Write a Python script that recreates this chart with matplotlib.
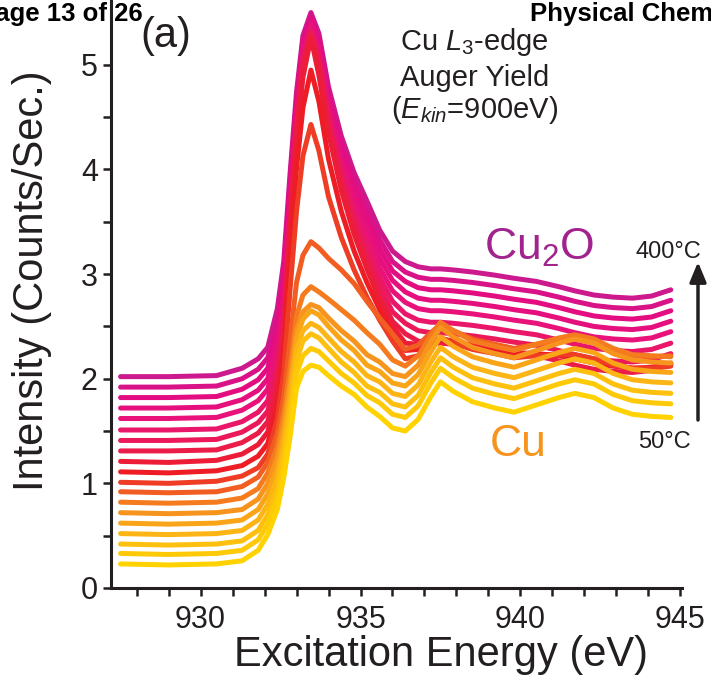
import matplotlib
matplotlib.use("Agg")
import matplotlib.pyplot as plt
from matplotlib.colors import LinearSegmentedColormap

plt.rcParams['font.family'] = ['Liberation Sans', 'DejaVu Sans']
plt.rcParams['mathtext.fontset'] = 'custom'
plt.rcParams['mathtext.rm'] = 'Liberation Sans'
plt.rcParams['mathtext.it'] = 'Liberation Sans:italic'

# excitation energy grid (eV)
energy = [927.5, 929.0, 930.5, 931.3, 931.8, 932.1, 932.4, 932.6, 932.8, 933.0,
          933.2, 933.45, 933.7, 934.0, 934.4, 934.8, 935.2, 935.6, 936.0, 936.4,
          936.8, 937.2, 937.5, 937.9, 938.5, 939.2, 939.8, 940.5, 941.2, 941.7,
          942.3, 942.9, 943.5, 944.1, 944.7]

# stacked spectra, bottom (50 C) to top (400 C)
scan_01 = [0.23, 0.22, 0.23, 0.26, 0.36, 0.51, 0.75, 1.05, 1.45, 1.91, 2.07, 2.13, 2.11, 2.03, 1.93, 1.85, 1.73, 1.64,
           1.53, 1.50, 1.61, 1.83, 1.97, 1.88, 1.78, 1.72, 1.68, 1.75, 1.82, 1.86, 1.82, 1.72, 1.66, 1.64, 1.63]
scan_02 = [0.33, 0.32, 0.33, 0.36, 0.46, 0.61, 0.86, 1.16, 1.58, 2.05, 2.22, 2.29, 2.26, 2.17, 2.05, 1.96, 1.84, 1.77,
           1.66, 1.63, 1.74, 1.96, 2.10, 2.01, 1.91, 1.85, 1.81, 1.88, 1.95, 1.99, 1.95, 1.85, 1.79, 1.77, 1.76]
scan_03 = [0.42, 0.41, 0.42, 0.45, 0.55, 0.70, 0.95, 1.26, 1.69, 2.17, 2.36, 2.43, 2.39, 2.29, 2.16, 2.06, 1.93, 1.87,
           1.76, 1.73, 1.84, 2.06, 2.20, 2.11, 2.01, 1.95, 1.91, 1.98, 2.05, 2.09, 2.05, 1.95, 1.89, 1.87, 1.86]
scan_04 = [0.52, 0.51, 0.52, 0.55, 0.65, 0.80, 1.05, 1.36, 1.79, 2.27, 2.46, 2.53, 2.49, 2.39, 2.26, 2.16, 2.03, 1.97,
           1.86, 1.83, 1.94, 2.16, 2.30, 2.21, 2.11, 2.05, 2.01, 2.08, 2.15, 2.19, 2.15, 2.05, 1.99, 1.97, 1.96]
scan_05 = [0.62, 0.61, 0.62, 0.65, 0.75, 0.90, 1.15, 1.46, 1.90, 2.38, 2.57, 2.65, 2.61, 2.50, 2.37, 2.27, 2.13, 2.07,
           1.96, 1.93, 2.04, 2.26, 2.40, 2.31, 2.21, 2.15, 2.11, 2.18, 2.25, 2.29, 2.25, 2.15, 2.09, 2.07, 2.06]
scan_06 = [0.72, 0.71, 0.72, 0.75, 0.85, 1.00, 1.25, 1.56, 1.98, 2.46, 2.64, 2.71, 2.68, 2.58, 2.46, 2.36, 2.23, 2.16,
           2.05, 2.02, 2.13, 2.35, 2.49, 2.40, 2.30, 2.24, 2.20, 2.27, 2.34, 2.38, 2.34, 2.24, 2.18, 2.16, 2.15]
scan_07 = [0.82, 0.81, 0.82, 0.86, 0.95, 1.10, 1.35, 1.67, 2.11, 2.60, 2.80, 2.88, 2.83, 2.76, 2.66, 2.56, 2.44, 2.33,
           2.18, 2.12, 2.22, 2.41, 2.54, 2.46, 2.36, 2.31, 2.27, 2.33, 2.39, 2.42, 2.38, 2.29, 2.23, 2.22, 2.21]
scan_08 = [0.92, 0.91, 0.92, 0.97, 1.06, 1.20, 1.48, 1.83, 2.37, 2.92, 3.18, 3.31, 3.25, 3.15, 3.04, 2.91, 2.74, 2.58,
           2.43, 2.28, 2.32, 2.44, 2.52, 2.46, 2.38, 2.33, 2.29, 2.33, 2.36, 2.38, 2.34, 2.26, 2.22, 2.21, 2.22]
scan_09 = [1.01, 1.00, 1.02, 1.07, 1.15, 1.28, 1.62, 2.06, 2.86, 3.60, 4.13, 4.43, 4.18, 3.74, 3.35, 3.04, 2.78, 2.56,
           2.36, 2.19, 2.22, 2.32, 2.39, 2.34, 2.28, 2.24, 2.20, 2.22, 2.23, 2.23, 2.19, 2.13, 2.10, 2.10, 2.12]
scan_10 = [1.11, 1.10, 1.12, 1.17, 1.26, 1.38, 1.73, 2.19, 3.16, 4.01, 4.59, 4.95, 4.65, 4.10, 3.60, 3.22, 2.92, 2.66,
           2.44, 2.27, 2.28, 2.34, 2.39, 2.35, 2.30, 2.26, 2.23, 2.23, 2.23, 2.21, 2.17, 2.13, 2.10, 2.10, 2.14]
scan_11 = [1.21, 1.20, 1.22, 1.28, 1.37, 1.49, 1.85, 2.33, 3.36, 4.26, 4.88, 5.26, 4.90, 4.35, 3.80, 3.38, 3.05, 2.75,
           2.50, 2.34, 2.33, 2.35, 2.38, 2.36, 2.32, 2.28, 2.25, 2.24, 2.22, 2.19, 2.15, 2.12, 2.10, 2.11, 2.15]
scan_12 = [1.31, 1.31, 1.32, 1.39, 1.48, 1.59, 1.96, 2.43, 3.45, 4.35, 4.99, 5.28, 5.00, 4.41, 3.87, 3.45, 3.12, 2.79,
           2.55, 2.43, 2.36, 2.34, 2.34, 2.33, 2.31, 2.28, 2.25, 2.22, 2.17, 2.13, 2.09, 2.07, 2.06, 2.08, 2.14]
scan_13 = [1.41, 1.41, 1.42, 1.49, 1.58, 1.69, 2.06, 2.53, 3.52, 4.40, 5.03, 5.31, 5.04, 4.46, 3.93, 3.52, 3.20, 2.88,
           2.64, 2.53, 2.46, 2.44, 2.44, 2.43, 2.41, 2.38, 2.35, 2.32, 2.27, 2.23, 2.19, 2.17, 2.16, 2.18, 2.24]
scan_14 = [1.51, 1.51, 1.52, 1.59, 1.68, 1.79, 2.16, 2.62, 3.59, 4.45, 5.07, 5.34, 5.08, 4.51, 3.99, 3.59, 3.29, 2.97,
           2.74, 2.62, 2.56, 2.54, 2.54, 2.53, 2.51, 2.48, 2.45, 2.42, 2.37, 2.33, 2.29, 2.27, 2.26, 2.28, 2.34]
scan_15 = [1.62, 1.62, 1.63, 1.70, 1.79, 1.90, 2.27, 2.73, 3.67, 4.51, 5.11, 5.37, 5.12, 4.56, 4.06, 3.67, 3.37, 3.06,
           2.84, 2.73, 2.67, 2.65, 2.65, 2.64, 2.62, 2.59, 2.56, 2.53, 2.48, 2.44, 2.40, 2.38, 2.37, 2.39, 2.45]
scan_16 = [1.72, 1.72, 1.73, 1.80, 1.89, 2.00, 2.37, 2.83, 3.75, 4.56, 5.15, 5.40, 5.16, 4.61, 4.13, 3.75, 3.46, 3.15,
           2.94, 2.83, 2.77, 2.75, 2.75, 2.74, 2.72, 2.69, 2.66, 2.63, 2.58, 2.54, 2.50, 2.48, 2.47, 2.49, 2.55]
scan_17 = [1.82, 1.82, 1.83, 1.90, 1.99, 2.10, 2.47, 2.93, 3.82, 4.61, 5.19, 5.43, 5.20, 4.66, 4.19, 3.82, 3.54, 3.24,
           3.03, 2.93, 2.87, 2.85, 2.85, 2.84, 2.82, 2.79, 2.76, 2.73, 2.68, 2.64, 2.60, 2.58, 2.57, 2.59, 2.65]
scan_18 = [1.92, 1.92, 1.93, 2.00, 2.09, 2.20, 2.57, 3.02, 3.89, 4.66, 5.23, 5.46, 5.25, 4.71, 4.25, 3.89, 3.62, 3.33,
           3.12, 3.02, 2.97, 2.95, 2.95, 2.94, 2.92, 2.89, 2.86, 2.83, 2.78, 2.74, 2.70, 2.68, 2.67, 2.69, 2.75]
scan_19 = [2.02, 2.02, 2.03, 2.10, 2.19, 2.30, 2.67, 3.12, 3.97, 4.74, 5.28, 5.50, 5.30, 4.79, 4.32, 3.97, 3.70, 3.42,
           3.22, 3.12, 3.07, 3.05, 3.05, 3.04, 3.02, 2.99, 2.96, 2.93, 2.88, 2.84, 2.80, 2.78, 2.77, 2.79, 2.85]

scans = [scan_01, scan_02, scan_03, scan_04, scan_05, scan_06, scan_07, scan_08, scan_09, scan_10,
         scan_11, scan_12, scan_13, scan_14, scan_15, scan_16, scan_17, scan_18, scan_19]

cmap = LinearSegmentedColormap.from_list('heat', [(0.0, '#FFD200'), (0.15, '#FDB913'), (0.28, '#F7941D'),
                                                  (0.36, '#F4701F'), (0.42, '#EF4A24'), (0.5, '#ED1C24'),
                                                  (0.62, '#EC1C4C'), (0.78, '#E8127A'), (0.9, '#E40B82'),
                                                  (1.0, '#CC1A8E')])

fig = plt.figure(figsize=(7.11, 6.77), dpi=100)
ax = fig.add_axes([0.1561, 0.1315, 0.8031, 0.8685])

n = len(scans)
for i, s in enumerate(scans):
    ax.plot(energy, s, color=cmap(i / (n - 1)), lw=3.6, solid_joinstyle='round',
            solid_capstyle='round', zorder=3 + (n - i))

ax.set_xlim(927.2, 945.05)
ax.set_ylim(0, 5.62)
ax.set_xticks([930, 935, 940, 945])
ax.set_xticks(range(928, 946), minor=True)
ax.set_yticks([0, 1, 2, 3, 4, 5])
ax.set_yticks([0.5, 1.5, 2.5, 3.5, 4.5], minor=True)
for side in ['top', 'right']:
    ax.spines[side].set_visible(False)
for side in ['left', 'bottom']:
    ax.spines[side].set_linewidth(2.2)
    ax.spines[side].set_color('#231F20')
ax.tick_params(which='both', direction='out', length=6, width=1.8, color='#231F20',
               labelsize=22, labelcolor='#231F20')
ax.tick_params(axis='x', pad=6)

fig.text(441 / 711, 0.032, 'Excitation Energy (eV)', ha='center', va='center', fontsize=30, color='#231F20')
fig.text(0.045, 0.586, 'Intensity (Counts/Sec.)', ha='center', va='center', rotation=90,
         fontsize=30, color='#231F20')

fig.text(0.2335, 0.947, '(a)', ha='center', va='center', fontsize=30, color='#231F20')
fig.text(0.667, 0.938, 'Cu $L_3$-edge', ha='center', va='center', fontsize=21, color='#231F20')
fig.text(0.667, 0.885, 'Auger Yield', ha='center', va='center', fontsize=21, color='#231F20')
fig.text(0.667, 0.8375, '($E_{kin}$=900eV)', ha='center', va='center', fontsize=21, color='#231F20')
fig.text(0.759, 0.634, 'Cu$_2$O', ha='center', va='center', fontsize=32, color='#A1248E')
fig.text(0.7285, 0.343, 'Cu', ha='center', va='center', fontsize=32, color='#F7941D')
fig.text(0.9395, 0.628, '400°C', ha='center', va='center', fontsize=17, color='#231F20')
fig.text(0.934, 0.347, '50°C', ha='center', va='center', fontsize=17, color='#231F20')
fig.patches.append(matplotlib.patches.FancyArrowPatch((698 / 711, 1 - 420 / 677), (698 / 711, 1 - 262 / 677),
                                                      transform=fig.transFigure, arrowstyle='-|>,head_width=5,head_length=12',
                                                      lw=2.5, color='#231F20', shrinkA=0, shrinkB=0))

fig.text(143 / 711, 1 - 21 / 677, 'Page 13 of 26', ha='right', va='baseline', fontsize=18.5,
         fontweight='bold', color='black')
fig.text(530 / 711, 1 - 21 / 677, 'Physical Chemistry', ha='left', va='baseline', fontsize=18.5,
         fontweight='bold', color='black')

plt.savefig('out.png', dpi=100)
